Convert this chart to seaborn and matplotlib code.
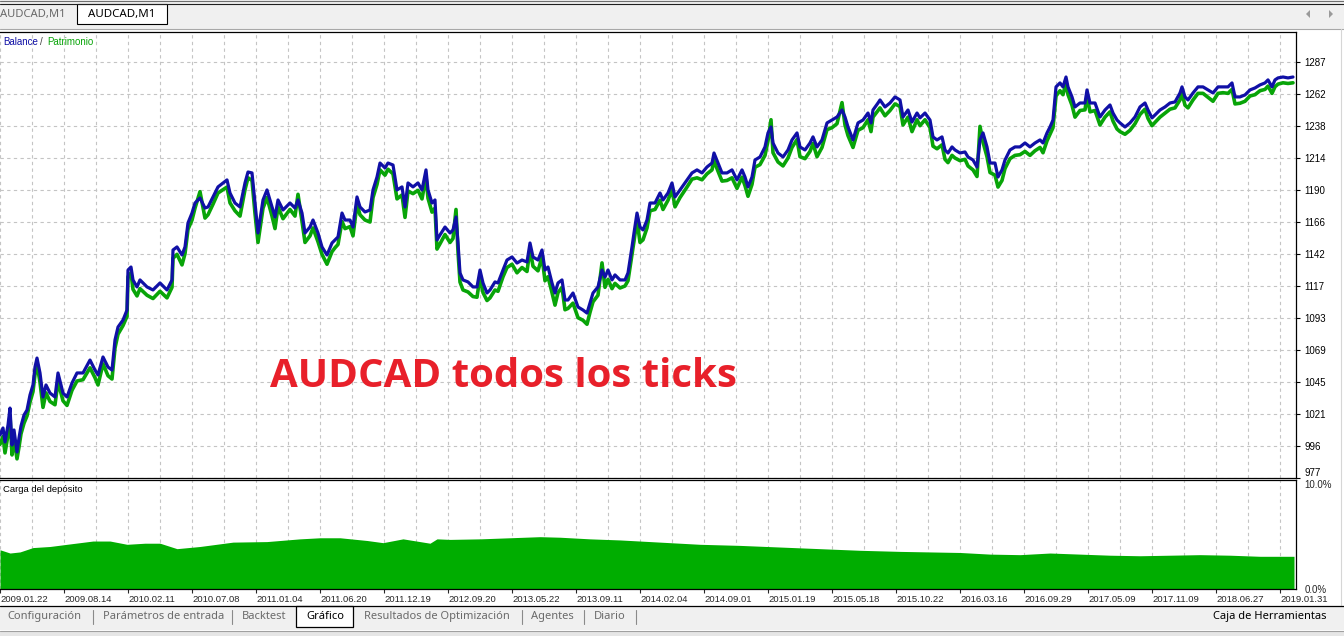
import numpy as np
import pandas as pd
import seaborn as sns
import matplotlib
matplotlib.use("Agg")
import matplotlib.pyplot as plt
from matplotlib.patches import Rectangle, Polygon

# balance / equity of the backtest (deal number -> account value)
deal = [0, 3, 5, 8, 10, 12, 14, 17, 19, 21, 24, 27, 30, 33, 35, 37, 40, 43, 46, 50,
        55, 58, 63, 67, 72, 77, 83, 90, 95, 98, 103, 108, 112, 115, 118, 123, 127, 128, 131, 133,
        137, 140, 147, 153, 160, 167, 172, 173, 177, 182, 185, 188, 192, 195, 200, 205, 208, 213, 218, 223,
        227, 230, 235, 240, 245, 248, 252, 255, 258, 263, 267, 272, 275, 278, 283, 290, 295, 298, 302, 305,
        310, 313, 318, 322, 327, 332, 335, 338, 342, 345, 350, 353, 357, 360, 365, 370, 373, 377, 380, 385,
        388, 393, 397, 402, 405, 408, 413, 418, 422, 426, 428, 432, 435, 437, 440, 445, 450, 453, 456, 458,
        460, 463, 468, 473, 477, 480, 483, 487, 490, 495, 498, 503, 507, 512, 517, 522, 527, 530, 533, 538,
        542, 545, 548, 552, 555, 558, 562, 565, 568, 573, 578, 583, 587, 590, 593, 598, 602, 605, 608, 612,
        615, 620, 625, 628, 632, 634, 637, 640, 643, 647, 650, 655, 660, 663, 668, 672, 675, 680, 687, 692,
        697, 702, 707, 712, 714, 718, 722, 727, 732, 737, 742, 745, 748, 752, 755, 760, 765, 768, 771, 773,
        778, 783, 788, 792, 797, 800, 805, 810, 813, 817, 822, 827, 832, 837, 842, 845, 848, 853, 858, 863,
        868, 871, 873, 878, 880, 885, 890, 895, 900, 903, 908, 912, 917, 920, 925, 930, 933, 937, 942, 945,
        948, 952, 955, 960, 965, 968, 973, 977, 980, 983, 987, 990, 995, 998, 1002, 1005, 1010, 1015, 1020, 1025,
        1030, 1035, 1040, 1043, 1047, 1050, 1053, 1056, 1060, 1063, 1066, 1068, 1072, 1075, 1080, 1085, 1087, 1090, 1095, 1100,
        1105, 1110, 1113, 1117, 1120, 1125, 1130, 1135, 1140, 1145, 1148, 1152, 1155, 1160, 1165, 1170, 1175, 1180, 1182, 1185,
        1188, 1193, 1198, 1203, 1208, 1213, 1218, 1223, 1228, 1232, 1235, 1240, 1245, 1250, 1255, 1260, 1265, 1268, 1272, 1275,
        1278, 1283, 1288, 1293]

balance = [1004.1, 1009.4, 998.8, 1011.6, 1024.5, 996.5, 1007.9, 991.2, 1001.8, 1010.9, 1019.2, 1023.0, 1034.4, 1042.0, 1055.6, 1062.4, 1051.1, 1032.9, 1042.0, 1035.9,
           1032.9, 1051.1, 1035.9, 1032.9, 1043.5, 1051.1, 1051.1, 1060.9, 1053.3, 1049.6, 1063.2, 1055.6, 1053.3, 1076.1, 1085.9, 1091.2, 1098.8, 1129.1, 1131.4, 1121.6,
           1116.3, 1121.6, 1116.3, 1114.0, 1119.3, 1114.0, 1121.6, 1144.3, 1146.6, 1140.5, 1146.6, 1164.8, 1172.3, 1179.9, 1183.7, 1176.1, 1176.9, 1184.5, 1192.1, 1195.1,
           1197.4, 1187.5, 1179.9, 1176.9, 1195.1, 1203.4, 1202.7, 1179.9, 1157.2, 1182.2, 1189.8, 1176.9, 1169.3, 1182.2, 1174.6, 1179.9, 1176.1, 1182.2, 1172.3, 1157.2,
           1161.7, 1167.0, 1157.2, 1146.6, 1140.5, 1149.6, 1151.9, 1154.2, 1172.3, 1167.0, 1167.0, 1161.7, 1184.5, 1176.9, 1173.1, 1174.6, 1189.8, 1199.6, 1210.2, 1206.5,
           1210.2, 1208.7, 1189.8, 1192.1, 1176.9, 1195.1, 1192.1, 1195.1, 1189.8, 1205.0, 1189.8, 1179.9, 1182.2, 1151.9, 1155.7, 1161.7, 1157.2, 1159.5, 1169.3, 1149.6,
           1126.9, 1121.6, 1120.1, 1116.3, 1116.3, 1129.1, 1119.3, 1111.7, 1114.0, 1120.1, 1119.3, 1129.1, 1136.7, 1139.0, 1134.4, 1136.7, 1135.2, 1149.6, 1139.0, 1136.7,
           1144.3, 1129.1, 1131.4, 1119.3, 1111.7, 1119.3, 1121.6, 1106.4, 1106.4, 1111.7, 1101.1, 1098.8, 1096.5, 1104.1, 1111.7, 1116.3, 1129.1, 1123.8, 1129.1, 1121.6,
           1125.4, 1121.6, 1121.6, 1126.9, 1146.6, 1157.2, 1172.3, 1161.7, 1159.5, 1167.0, 1179.9, 1179.9, 1187.5, 1182.2, 1187.5, 1195.1, 1184.5, 1189.8, 1197.4, 1202.7,
           1205.0, 1202.7, 1207.2, 1210.2, 1217.8, 1210.2, 1202.7, 1202.7, 1205.0, 1197.4, 1205.0, 1199.6, 1192.1, 1199.6, 1212.5, 1214.8, 1222.4, 1233.0, 1237.5, 1225.4,
           1217.8, 1214.8, 1220.1, 1227.7, 1233.0, 1222.4, 1220.1, 1225.4, 1230.0, 1222.4, 1227.7, 1240.6, 1242.8, 1245.1, 1250.4, 1245.1, 1237.5, 1227.7, 1240.6, 1242.8,
           1248.1, 1240.6, 1250.4, 1255.7, 1258.0, 1252.7, 1255.7, 1260.3, 1258.0, 1245.1, 1250.4, 1241.3, 1248.1, 1244.4, 1248.1, 1242.8, 1230.0, 1227.7, 1230.0, 1220.1,
           1217.8, 1222.4, 1220.1, 1217.8, 1218.6, 1214.8, 1212.5, 1207.2, 1227.7, 1233.0, 1222.4, 1210.2, 1210.2, 1199.6, 1205.0, 1212.5, 1220.1, 1222.4, 1222.4, 1225.4,
           1222.4, 1225.4, 1227.7, 1225.4, 1233.0, 1237.5, 1242.8, 1267.9, 1270.9, 1267.9, 1275.4, 1267.9, 1260.3, 1252.7, 1255.7, 1255.7, 1265.6, 1255.7, 1255.7, 1245.1,
           1250.4, 1254.2, 1248.1, 1242.8, 1240.6, 1237.5, 1240.6, 1245.1, 1252.7, 1255.7, 1250.4, 1244.4, 1246.6, 1250.4, 1252.7, 1255.7, 1256.5, 1263.3, 1267.9, 1260.3,
           1258.0, 1263.3, 1267.9, 1267.9, 1265.6, 1263.3, 1267.9, 1267.9, 1267.9, 1270.9, 1260.3, 1260.3, 1261.8, 1265.6, 1267.1, 1269.4, 1270.9, 1273.2, 1267.9, 1273.2,
           1274.7, 1275.4, 1274.7, 1275.4]

equity = [997.0, 1003.0, 990.5, 1004.0, 1019.0, 989.0, 1001.5, 986.0, 995.0, 1005.0, 1013.0, 1018.5, 1029.0, 1037.0, 1050.0, 1058.0, 1044.0, 1025.0, 1036.0, 1029.5,
          1027.0, 1044.5, 1030.0, 1026.5, 1038.0, 1045.0, 1046.0, 1055.0, 1047.5, 1042.0, 1058.0, 1049.0, 1046.5, 1070.0, 1080.5, 1087.0, 1094.0, 1124.0, 1127.0, 1114.5,
          1109.5, 1115.0, 1110.0, 1107.5, 1113.0, 1108.0, 1116.0, 1138.0, 1141.0, 1133.0, 1141.5, 1160.0, 1167.0, 1176.0, 1188.5, 1168.5, 1171.0, 1179.0, 1187.5, 1190.0,
          1192.0, 1180.0, 1174.0, 1170.0, 1190.0, 1199.0, 1197.0, 1172.0, 1150.0, 1176.0, 1184.0, 1170.0, 1160.5, 1177.0, 1168.0, 1175.0, 1170.0, 1186.5, 1166.0, 1150.0,
          1155.0, 1161.0, 1150.5, 1141.0, 1133.5, 1143.0, 1146.0, 1148.5, 1166.0, 1160.5, 1162.0, 1155.0, 1179.0, 1171.0, 1167.0, 1165.5, 1184.0, 1194.0, 1205.0, 1201.0,
          1205.5, 1202.0, 1183.0, 1186.0, 1169.0, 1189.0, 1187.0, 1189.5, 1183.0, 1200.0, 1183.5, 1173.0, 1176.0, 1145.0, 1149.0, 1156.0, 1150.0, 1153.0, 1175.0, 1143.0,
          1120.0, 1114.0, 1112.5, 1109.0, 1108.5, 1124.0, 1112.0, 1106.0, 1108.0, 1114.0, 1113.0, 1124.0, 1131.0, 1133.5, 1127.0, 1131.0, 1128.0, 1145.0, 1132.0, 1128.5,
          1139.0, 1121.0, 1124.0, 1112.0, 1102.5, 1112.0, 1116.0, 1099.0, 1100.0, 1104.0, 1093.0, 1091.0, 1088.0, 1097.0, 1105.0, 1110.0, 1134.5, 1116.0, 1122.0, 1115.0,
          1119.0, 1115.5, 1117.0, 1121.0, 1141.0, 1151.0, 1167.0, 1150.0, 1152.0, 1161.0, 1174.0, 1175.0, 1182.0, 1175.0, 1182.0, 1190.0, 1177.0, 1184.0, 1192.0, 1198.0,
          1199.0, 1197.5, 1202.0, 1205.0, 1212.0, 1204.0, 1196.5, 1197.0, 1199.0, 1191.0, 1199.5, 1193.0, 1185.0, 1194.0, 1207.0, 1209.0, 1216.0, 1227.0, 1243.0, 1218.0,
          1211.0, 1208.0, 1214.0, 1222.0, 1228.0, 1215.0, 1213.5, 1219.0, 1225.0, 1215.0, 1222.0, 1235.5, 1237.0, 1240.0, 1256.0, 1239.0, 1231.0, 1222.0, 1235.0, 1237.0,
          1243.0, 1234.0, 1245.0, 1250.0, 1252.0, 1246.0, 1250.0, 1255.0, 1253.0, 1239.0, 1245.0, 1234.0, 1243.0, 1238.5, 1243.0, 1237.0, 1223.0, 1221.0, 1224.0, 1213.0,
          1210.5, 1216.0, 1214.0, 1212.0, 1213.0, 1208.0, 1205.0, 1200.0, 1238.0, 1226.0, 1215.0, 1203.0, 1201.0, 1192.0, 1197.0, 1206.0, 1213.5, 1216.0, 1216.5, 1219.0,
          1216.0, 1219.5, 1222.0, 1218.0, 1227.0, 1232.0, 1237.0, 1261.0, 1265.0, 1262.0, 1271.0, 1262.0, 1254.0, 1245.0, 1250.0, 1250.5, 1261.0, 1249.0, 1250.0, 1239.0,
          1245.0, 1249.0, 1242.0, 1236.0, 1234.0, 1232.0, 1235.0, 1240.0, 1247.0, 1251.0, 1244.0, 1238.5, 1241.0, 1245.0, 1248.0, 1251.0, 1252.0, 1258.0, 1263.0, 1254.0,
          1252.0, 1258.0, 1263.0, 1263.0, 1260.0, 1257.0, 1263.0, 1263.5, 1263.0, 1266.0, 1255.0, 1255.5, 1257.0, 1261.0, 1262.0, 1265.0, 1266.0, 1268.5, 1263.0, 1268.0,
          1270.0, 1271.0, 1270.5, 1271.0]

# deposit load (%)
load_deal = [0, 10, 20, 33, 50, 67, 93, 110, 127, 145, 160, 177, 200, 233, 267, 300, 320, 340, 367, 383,
             403, 430, 437, 450, 480, 510, 540, 560, 590, 620, 650, 680, 700, 740, 780, 820, 860, 900, 930, 960,
             990, 1020, 1050, 1080, 1110, 1140, 1170, 1200, 1230, 1260, 1294]
load_pct = [3.6, 3.3, 3.4, 3.8, 3.9, 4.1, 4.4, 4.4, 4.1, 4.2, 4.2, 3.7, 3.9, 4.3, 4.35, 4.6, 4.7, 4.7, 4.45, 4.25,
            4.6, 4.2, 4.6, 4.55, 4.6, 4.7, 4.8, 4.75, 4.6, 4.5, 4.35, 4.2, 4.1, 4.0, 3.85, 3.7, 3.55, 3.45, 3.4, 3.35,
            3.2, 3.15, 3.3, 3.2, 3.1, 3.05, 3.1, 3.15, 3.1, 3.0, 3.0]

y_tick_labels = ['977', '996', '1021', '1045', '1069', '1093', '1117', '1142', '1166',
                 '1190', '1214', '1238', '1262', '1287']
date_labels = ['2009.01.22', '2009.08.14', '2010.02.11', '2010.07.08', '2011.01.04', '2011.06.20',
               '2011.12.19', '2012.09.20', '2013.05.22', '2013.09.11', '2014.02.04', '2014.09.01',
               '2015.01.19', '2015.05.18', '2015.10.22', '2016.03.16', '2016.09.29', '2017.05.09',
               '2017.11.09', '2018.06.27', '2019.01.31']

df = pd.DataFrame({'deal': deal, 'balance': balance, 'equity': equity})
load = pd.DataFrame({'deal': load_deal, 'load': load_pct})

sns.set_style("white")
plt.rcParams['font.family'] = ['Liberation Sans', 'DejaVu Sans']

W, H = 1344, 636
BLUE = '#1010a6'
GREEN = '#08a408'
GRID = '#c4c4c4'
fig = plt.figure(figsize=(W / 100, H / 100), dpi=100)
fig.patch.set_facecolor('white')

# main panel: pixels x 0-1296, y 32-478 ; lower panel y 480-589
ax = fig.add_axes([0, 1 - 478 / H, 1296 / W, 446 / H])
ax2 = fig.add_axes([0, 1 - 589 / H, 1296 / W, 109 / H])

sns.lineplot(data=df, x='deal', y='equity', ax=ax, color=GREEN, linewidth=2.6, estimator=None)
sns.lineplot(data=df, x='deal', y='balance', ax=ax, color=BLUE, linewidth=2.3, estimator=None)

ax.set_xlim(0, 1296)
ax.set_ylim(971.5, 1309.5)
ytick_pos = [971.5] + [996 + 24.25 * k for k in range(13)]
ax.set_yticks(ytick_pos)
ax.set_yticklabels(y_tick_labels)
ax.set_xticks(np.arange(0, 1297, 32))
ax.set_xticklabels([])
ax.yaxis.tick_right()
ax.tick_params(axis='y', right=True, length=3, width=0.8, pad=3, labelsize=7, colors='black')
ax.tick_params(axis='x', bottom=False, length=0)
ax.get_yticklabels()[0].set_va('bottom')
ax.grid(True, color=GRID, linestyle=(0, (3, 3)), linewidth=0.8)
ax.set_xlabel('')
ax.set_ylabel('')
for s in ['top', 'right', 'bottom']:
    ax.spines[s].set_color('black')
    ax.spines[s].set_linewidth(0.9)
ax.spines['left'].set_visible(False)

# lower panel: deposit load
ax2.fill_between(load['deal'], load['load'], 0, color='#00ad00', linewidth=0)
ax2.set_xlim(0, 1296)
ax2.set_ylim(0, 10)
ax2.set_xticks(np.arange(0, 1281, 64))
ax2.set_xticklabels(date_labels, ha='left')
ax2.set_xticks(np.arange(32, 1297, 64), minor=True)
ax2.tick_params(axis='x', which='major', bottom=True, length=3, width=0.8, pad=1, labelsize=6.8)
ax2.tick_params(axis='x', which='minor', bottom=False, length=0)
ax2.grid(True, axis='x', which='both', color=GRID, linestyle=(0, (3, 3)), linewidth=0.8)
ax2.grid(False, axis='y')
ax2.yaxis.tick_right()
ax2.set_yticks([0, 10])
ax2.set_yticklabels(['0.0%', '10.0%'])
ax2.tick_params(axis='y', right=True, length=0, pad=6, labelsize=7)
ax2.get_yticklabels()[1].set_va('top')
ax2.set_xlabel('')
ax2.set_ylabel('')
for s in ['top', 'right', 'bottom']:
    ax2.spines[s].set_color('black')
    ax2.spines[s].set_linewidth(0.9)
ax2.spines['left'].set_visible(False)

# overlay in pixel coordinates for the window chrome and labels
ov = fig.add_axes([0, 0, 1, 1], zorder=5)
ov.set_xlim(0, W)
ov.set_ylim(H, 0)
ov.axis('off')
ov.patch.set_alpha(0)

# top tab bar
ov.add_patch(Rectangle((0, 0), W, 28.5, facecolor='#f0f0f0', edgecolor='none'))
ov.plot([0, W], [1, 1], color='#6e6e6e', lw=0.8)
ov.plot([0, W], [3.5, 3.5], color='#202020', lw=0.8)
ov.plot([0, W], [28.5, 28.5], color='#a8a8a8', lw=0.8)
ov.add_patch(Rectangle((77, 4), 90, 19.5, facecolor='white', edgecolor='black', lw=0.8))
ov.text(0, 14, 'AUDCAD,M1', fontsize=8.1, family='Noto Sans', color='#6a6a6a', va='center')
ov.text(88, 14, 'AUDCAD,M1', fontsize=8.3, family='Noto Sans', color='black', va='center')
ov.add_patch(Polygon([[1310, 10], [1310, 18], [1306, 14]], facecolor='#9a9a9a', edgecolor='none'))
ov.add_patch(Polygon([[1329, 10], [1329, 18], [1333, 14]], facecolor='#9a9a9a', edgecolor='none'))
ov.plot([1340.5, 1340.5], [29, 605], color='#d6d6d6', lw=0.8)

# legends inside panels
ov.text(3, 42, 'Balance', fontsize=7, color=BLUE, va='center')
ov.text(40, 42, '/', fontsize=7, color='#404040', va='center')
ov.text(47, 42, 'Patrimonio', fontsize=7, color=GREEN, va='center')
ov.text(3, 489, 'Carga del depósito', fontsize=6.8, color='black', va='center')

# annotation
ov.text(270, 387, 'AUDCAD todos los ticks', fontsize=29, family='Open Sans', fontweight='bold',
        color='#e8202a', va='baseline')

# bottom tab bar
ov.add_patch(Rectangle((0, 605.5), W, 24.5, facecolor='#f0f0f0', edgecolor='none'))
ov.plot([0, W], [605.5, 605.5], color='black', lw=0.9)
ov.plot([0, W], [630.5, 630.5], color='#a0a0a0', lw=0.8)
ov.add_patch(Rectangle((0, 631), W, 5, facecolor='#e6e6e6', edgecolor='none'))
ov.add_patch(Rectangle((296, 605.5), 57, 21.5, facecolor='white', edgecolor='black', lw=0.9))
tabs = [(7, 'Configuración'), (103, 'Parámetros de entrada'), (242, 'Backtest'),
        (364, 'Resultados de Optimización'), (531, 'Agentes'), (594, 'Diario')]
for x0, t in tabs:
    ov.text(x0, 616.5, t, fontsize=8, family='Noto Sans', color='#6a6a6a', va='center')
ov.text(306, 616.5, 'Gráfico', fontsize=8, family='Noto Sans', color='black', va='center')
ov.text(1213, 616.5, 'Caja de Herramientas', fontsize=8, family='Noto Sans', color='black', va='center')
for xs in [93, 232, 522, 584, 636]:
    ov.plot([xs, xs], [609.5, 623.5], color='#8a8a8a', lw=0.8)

fig.savefig('out.png', dpi=100, facecolor='white')
